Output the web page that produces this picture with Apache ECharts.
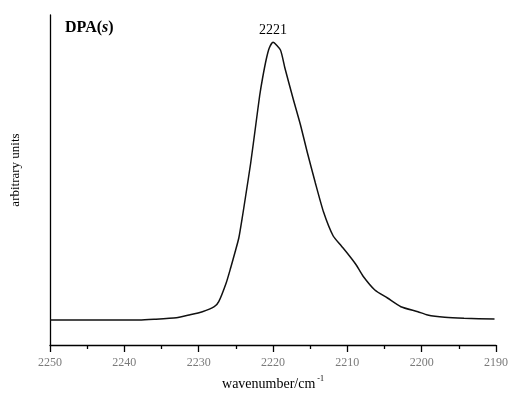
<!DOCTYPE html>
<html>
<head>
<meta charset="utf-8">
<script src="https://cdn.jsdelivr.net/npm/echarts@6/dist/echarts.min.js"></script>
<style>
  html, body { margin: 0; padding: 0; background: #fff; }
  #chart { width: 511px; height: 396px; }
</style>
</head>
<body>
<div id="chart"></div>
<script>
// wavenumber (cm-1) and intensity (arbitrary units)
const wavenumbers = [
  2250, 2238.0, 2236.0, 2233.0, 2231.3, 2229.5, 2227.9, 2227.3, 2226.3, 2225.7,
  2225.1, 2224.6, 2224.1, 2223.7, 2223.0, 2222.3, 2221.8, 2221.4, 2220.9, 2220.5,
  2220.0, 2219.0, 2218.4, 2217.3, 2216.3, 2215.4, 2214.3, 2213.2, 2211.9, 2210.8,
  2209.6, 2208.8, 2207.9, 2206.3, 2204.6, 2202.8, 2200.5, 2199.2, 2196.9, 2194.3,
  2190.2
];
const intensity = [
  25, 25, 25.7, 27.3, 30, 33.3, 38.3, 43.3, 62, 77,
  93, 107, 129, 148, 182, 221, 249, 267, 286, 297,
  302.7, 295, 277, 246.5, 220, 193, 162, 133, 109, 99,
  88, 80, 69, 55, 47, 38.3, 33.3, 30, 27.7, 26.7,
  26
];
const peakLabel = '2221';
const peakAt = [2220.0, 302.7];

const font = 'Liberation Serif, Times New Roman, serif';
const chart = echarts.init(document.getElementById('chart'), null, { renderer: 'canvas' });

chart.setOption({
  animation: false,
  backgroundColor: '#fff',
  grid: { left: 50, right: 12, top: 15, bottom: 51 },
  xAxis: {
    type: 'value',
    inverse: true,
    min: 2190,
    max: 2250,
    interval: 10,
    name: '{n|wavenumber/cm}{s|-1}',
    nameLocation: 'middle',
    nameGap: 30,
    nameTextStyle: {
      rich: {
        n: { fontFamily: font, fontSize: 14, color: '#000' },
        s: { fontFamily: font, fontSize: 8, color: '#000', verticalAlign: 'top', padding: [0, 0, 10, 2] }
      }
    },
    axisLine: { show: true, lineStyle: { color: '#000', width: 1.3 } },
    axisTick: { show: true, length: 7, lineStyle: { color: '#000', width: 1.3 } },
    minorTick: { show: true, splitNumber: 2, length: 4, lineStyle: { color: '#000', width: 1.3 } },
    splitLine: { show: false },
    axisLabel: {
      fontFamily: font, fontSize: 12, color: '#7a7a7a', margin: 12,
      formatter: (v) => String(v)
    }
  },
  yAxis: {
    type: 'value',
    min: 0,
    max: 330,
    name: 'arbitrary units',
    nameLocation: 'middle',
    nameGap: 28,
    nameTextStyle: { fontFamily: font, fontSize: 13, color: '#000', padding: [0, 0, 0, 20] },
    axisLine: { show: true, lineStyle: { color: '#000', width: 1.3 } },
    axisTick: { show: false },
    axisLabel: { show: false },
    splitLine: { show: false }
  },
  graphic: [{
    type: 'text',
    left: 65,
    top: 20,
    style: {
      text: '{b|DPA(}{i|s}{b|)}',
      rich: {
        b: { fontFamily: font, fontSize: 16, fontWeight: 'bold', fill: '#000' },
        i: { fontFamily: font, fontSize: 16, fontWeight: 'bold', fontStyle: 'italic', fill: '#000' }
      }
    }
  }],
  series: [{
    type: 'line',
    data: wavenumbers.map((w, i) => [w, intensity[i]]),
    showSymbol: false,
    smooth: 0.2,
    lineStyle: { color: '#111', width: 1.5 },
    markPoint: {
      symbol: 'circle',
      symbolSize: 0,
      data: [{ coord: peakAt }],
      label: {
        show: true,
        formatter: peakLabel,
        position: 'top',
        distance: 5,
        fontFamily: font,
        fontSize: 14,
        color: '#000'
      }
    }
  }]
});
</script>
</body>
</html>
